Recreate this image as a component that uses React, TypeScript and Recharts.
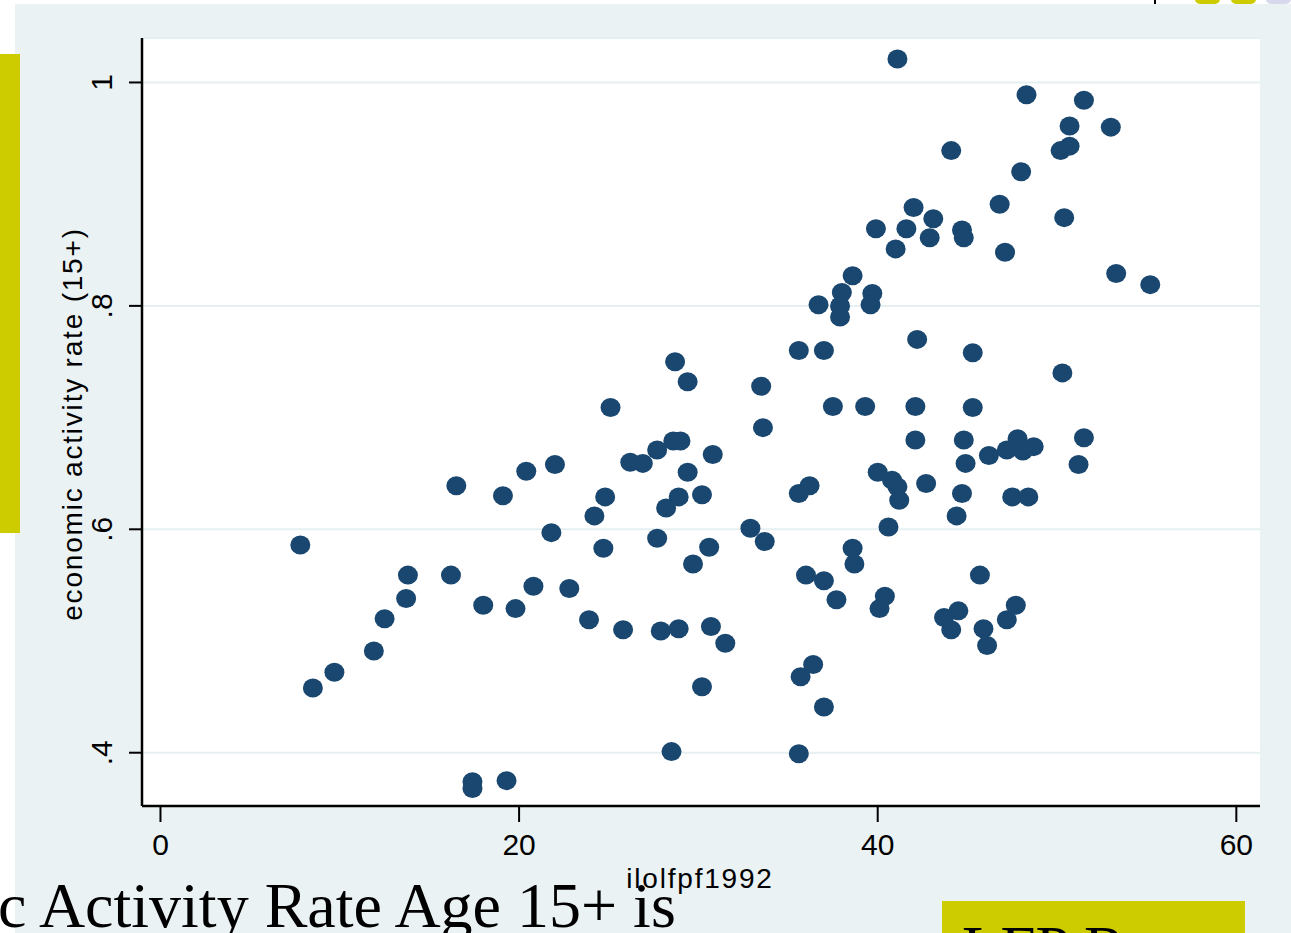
import { ScatterChart, Scatter, XAxis, YAxis, CartesianGrid } from "recharts";

// female LFP 1992 (x) vs economic activity rate 15+ (y)
const ilolfpf1992 = [
  7.8, 8.5, 9.7, 11.9, 12.5, 13.7, 13.8, 16.5, 16.2, 18.0,
  19.8, 20.8, 22.8, 19.1, 20.4, 22.0, 21.8, 17.4, 17.4, 19.3,
  23.9, 28.7, 29.4, 25.1, 35.6, 37.0, 33.5, 37.5, 39.3, 33.6,
  28.6, 29.0, 27.7, 26.2, 26.9, 30.8, 29.4, 24.8, 24.2, 28.9,
  30.2, 28.2, 32.9, 33.7, 27.7, 24.7, 30.6, 29.7, 25.8, 27.9,
  28.9, 30.7, 31.5, 30.2, 28.5, 35.6, 35.6, 36.2, 40.0, 40.8,
  41.1, 41.2, 40.6, 36.0, 37.0, 37.7, 38.6, 38.7, 40.4, 40.1,
  36.4, 35.7, 37.0, 42.0, 43.1, 39.9, 41.6, 42.9, 41.0, 38.6,
  38.0, 37.9, 37.9, 36.7, 39.7, 39.6, 42.2, 41.1, 48.3, 51.5,
  50.7, 53.0, 50.2, 50.7, 44.1, 48.0, 46.8, 44.7, 44.8, 47.1,
  50.4, 53.3, 55.2, 45.3, 50.3, 42.1, 45.3, 42.1, 44.8, 46.2,
  47.2, 47.8, 48.1, 48.7, 51.5, 51.2, 44.9, 42.7, 44.7, 47.5,
  48.4, 44.4, 45.7, 44.5, 43.7, 44.1, 45.9, 46.1, 47.7, 47.2,
];

const activityRate = [
  0.586, 0.458, 0.472, 0.491, 0.52, 0.538, 0.559, 0.639, 0.559, 0.532,
  0.529, 0.549, 0.547, 0.63, 0.652, 0.658, 0.597, 0.374, 0.368, 0.375,
  0.519, 0.75, 0.732, 0.709, 0.76, 0.76, 0.728, 0.71, 0.71, 0.691,
  0.679, 0.679, 0.671, 0.66, 0.659, 0.667, 0.651, 0.629, 0.612, 0.629,
  0.631, 0.619, 0.601, 0.589, 0.592, 0.583, 0.584, 0.569, 0.51, 0.509,
  0.511, 0.513, 0.498, 0.459, 0.401, 0.399, 0.632, 0.639, 0.651, 0.644,
  0.638, 0.626, 0.602, 0.559, 0.554, 0.537, 0.583, 0.569, 0.54, 0.529,
  0.479, 0.468, 0.441, 0.888, 0.878, 0.869, 0.869, 0.861, 0.851, 0.827,
  0.812, 0.8, 0.79, 0.801, 0.811, 0.801, 0.77, 1.021, 0.989, 0.984,
  0.961, 0.96, 0.939, 0.943, 0.939, 0.92, 0.891, 0.868, 0.861, 0.848,
  0.879, 0.829, 0.819, 0.758, 0.74, 0.71, 0.709, 0.68, 0.68, 0.666,
  0.671, 0.681, 0.67, 0.674, 0.682, 0.658, 0.659, 0.641, 0.632, 0.629,
  0.629, 0.612, 0.559, 0.527, 0.521, 0.51, 0.511, 0.496, 0.532, 0.519,
];

const xTicks = [0, 20, 40, 60];
const yTicks = [0.4, 0.6, 0.8, 1];

const points = ilolfpf1992.map((x, i) => ({ x, y: activityRate[i] }));

const SANS = "'Liberation Sans', Arial, Helvetica, sans-serif";
const SERIF = "'Liberation Serif', 'Times New Roman', serif";
const NAVY = "#1a476f";
const PANEL = "#eaf2f3";
const YELLOW = "#cccc00";

function fmtY(v: number) {
  return v === 1 ? "1" : String(v).replace(/^0\./, ".");
}

function YTick(props: any) {
  const { x, y, payload } = props;
  return (
    <text
      x={x}
      y={y}
      transform={`rotate(-90 ${x} ${y})`}
      textAnchor="middle"
      fill="#000"
      fontSize={30}
      fontFamily={SANS}
    >
      {fmtY(payload.value)}
    </text>
  );
}

function Dot(props: any) {
  const { cx, cy } = props;
  return <ellipse cx={cx} cy={cy} rx={10} ry={9.5} fill={NAVY} />;
}

export default function App() {
  return (
    <div
      style={{
        position: "absolute",
        left: 0,
        top: 0,
        width: 1291,
        height: 933,
        overflow: "hidden",
        background: "#fff",
      }}
    >
      {/* slide bits around the graph */}
      <div style={{ position: "absolute", left: 15, top: 4, width: 1276, height: 929, background: PANEL }} />
      <div style={{ position: "absolute", left: 1154, top: 0, width: 2, height: 4, background: "#000" }} />
      <div style={{ position: "absolute", left: 1195, top: -6, width: 25, height: 10, borderRadius: 5, background: YELLOW }} />
      <div style={{ position: "absolute", left: 1231, top: -6, width: 25, height: 10, borderRadius: 5, background: YELLOW }} />
      <div style={{ position: "absolute", left: 1266, top: -6, width: 25, height: 10, borderRadius: 5, background: "#d8d8ec" }} />
      <div style={{ position: "absolute", left: 0, top: 54, width: 20, height: 479, background: YELLOW }} />

      <div style={{ position: "absolute", left: 0, top: 0 }}>
        <ScatterChart width={1291} height={933} margin={{ top: 38, right: 31, bottom: 67, left: 62 }}>
          <CartesianGrid vertical={false} fill="#fff" stroke="#e6eff2" strokeWidth={2} />
          <XAxis
            type="number"
            dataKey="x"
            domain={[-1.03, 61.32]}
            ticks={xTicks}
            allowDataOverflow
            height={60}
            tickSize={16}
            tickMargin={12}
            tick={{ fill: "#000", fontSize: 30, fontFamily: SANS }}
            tickLine={{ stroke: "#000", strokeWidth: 2 }}
            axisLine={{ stroke: "#000", strokeWidth: 2.5 }}
            label={() => (
              <text x={700} y={888} textAnchor="middle" fill="#000" fontSize={28} fontFamily={SANS} letterSpacing={1.8}>
                ilolfpf1992
              </text>
            )}
          />
          <YAxis
            type="number"
            dataKey="y"
            domain={[0.3523, 1.0398]}
            ticks={yTicks}
            allowDataOverflow
            width={80}
            tickSize={13}
            tickMargin={17}
            tick={<YTick />}
            tickLine={{ stroke: "#000", strokeWidth: 2 }}
            axisLine={{ stroke: "#000", strokeWidth: 2.5 }}
            label={() => (
              <text
                x={82}
                y={424}
                transform="rotate(-90 82 424)"
                textAnchor="middle"
                fill="#000"
                fontSize={28}
                fontFamily={SANS}
                letterSpacing={1.8}
              >
                economic activity rate (15+)
              </text>
            )}
          />
          <Scatter data={points} shape={<Dot />} isAnimationActive={false} />
        </ScatterChart>
      </div>

      <div
        style={{
          position: "absolute",
          left: -2,
          top: 874,
          fontFamily: SERIF,
          fontSize: 64,
          lineHeight: "64px",
          color: "#000",
          whiteSpace: "nowrap",
        }}
      >
        c Activity Rate Age 15+ is
      </div>
      <div
        style={{
          position: "absolute",
          left: 942,
          top: 901,
          width: 303,
          height: 40,
          background: YELLOW,
          overflow: "hidden",
        }}
      >
        <div
          style={{
            position: "absolute",
            left: 20,
            top: 17,
            fontFamily: SERIF,
            fontSize: 63,
            lineHeight: "63px",
            color: "#000",
            whiteSpace: "nowrap",
          }}
        >
          LFP Rates
        </div>
      </div>
    </div>
  );
}
